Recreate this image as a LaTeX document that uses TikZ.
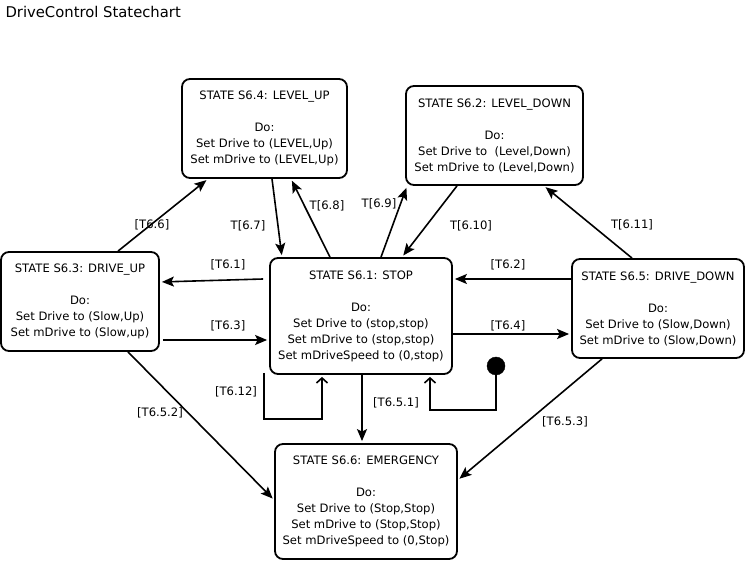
\documentclass[tikz,border=0pt]{standalone}
\usepackage{fontspec}
\setmainfont{DejaVu Sans}
\usetikzlibrary{arrows.meta}

\tikzset{
  statebox/.style={draw=black, line width=1.8pt, rounded corners=8pt, align=center,
    inner sep=0pt, font=\fontsize{11.6}{16}\selectfont},
  trans/.style={draw=black, line width=1.6pt, shorten >=2pt,
    -{Stealth[length=12pt,width=10pt,inset=2.5pt]}},
  looptrans/.style={draw=black, line width=1.6pt, shorten >=2pt,
    -{Straight Barb[length=5pt,width=11pt]}},
  tlabel/.style={font=\fontsize{11.6}{14}\selectfont, inner sep=1pt}
}

\begin{document}
\begin{tikzpicture}[x=1pt, y=-1pt]
        \useasboundingbox (0,0) rectangle (748,561);
        \node[anchor=west, font=\fontsize{14.8}{16}\selectfont] (title) at (2,12) {DriveControl Statechart};

        % states
        \node[statebox, minimum width=165pt, minimum height=99pt] (levelup) at (264.5,128.5)
          {STATE S6.4: LEVEL\_UP\\[\baselineskip] Do:\\ Set Drive to (LEVEL,Up)\\ Set mDrive to (LEVEL,Up)};
        \node[statebox, minimum width=177pt, minimum height=99pt] (leveldown) at (494.5,135.5)
          {STATE S6.2: LEVEL\_DOWN\\[\baselineskip] Do:\\ Set Drive to~ (Level,Down)\\ Set mDrive to (Level,Down)};
        \node[statebox, minimum width=158pt, minimum height=99pt] (driveup) at (80,301.5)
          {STATE S6.3: DRIVE\_UP\\[\baselineskip] Do:\\ Set Drive to (Slow,Up)\\ Set mDrive to (Slow,up)};
        \node[statebox, minimum width=182pt, minimum height=116pt] (stop) at (361,316)
          {STATE S6.1: STOP\\[\baselineskip] Do:\\ Set Drive to (stop,stop)\\ Set mDrive to (stop,stop)\\ Set mDriveSpeed to (0,stop)};
        \node[statebox, minimum width=172pt, minimum height=99pt] (drivedown) at (658,308.5)
          {STATE S6.5: DRIVE\_DOWN\\[\baselineskip] Do:\\ Set Drive to (Slow,Down)\\ Set mDrive to (Slow,Down)};
        \node[statebox, minimum width=182pt, minimum height=115pt] (emergency) at (366,501.5)
          {STATE S6.6: EMERGENCY\\[\baselineskip] Do:\\ Set Drive to (Stop,Stop)\\ Set mDrive to (Stop,Stop)\\ Set mDriveSpeed to (0,Stop)};

        % initial state
        \filldraw[black] (496,366) circle (9pt);
        \coordinate (init) at (496,366);
        \draw[looptrans] (init) -- ++(0,44) -| ([xshift=69pt]stop.south);

        % transitions
        \draw[trans] ([xshift=38pt]driveup.north) -- ([xshift=-56.5pt]levelup.south);
        \draw[trans] ([xshift=7.5pt]levelup.south) -- ([xshift=-79pt]stop.north);
        \draw[trans] ([xshift=-31pt]stop.north) -- ([xshift=26.5pt]levelup.south);
        \draw[trans] ([xshift=20pt]stop.north) -- ([xshift=2pt]leveldown.south west);
        \draw[trans] ([xshift=-37.5pt]leveldown.south) -- ([xshift=41pt]stop.north);
        \draw[trans] ([xshift=-26pt]drivedown.north) -- ([xshift=49.5pt]leveldown.south);
        \draw[trans] ([xshift=-6pt,yshift=37pt]stop.west) -- ([yshift=19.5pt]driveup.east);
        \draw[trans] ([xshift=3pt,yshift=-38.5pt]driveup.east) -- ([yshift=-24pt]stop.west);
        \draw[trans] ([yshift=29.5pt]drivedown.west) -- ([yshift=37pt]stop.east);
        \draw[trans] ([yshift=-18pt]stop.east) -- ([yshift=-25.5pt]drivedown.west);
        \draw[looptrans] ([xshift=-97pt,yshift=2pt]stop.south) -- ++(0,46) -| ([xshift=-39pt]stop.south);
        \draw[trans] ([xshift=1pt]stop.south) -- ([xshift=-4pt]emergency.north);
        \draw[trans] ([xshift=48pt]driveup.south) -- ([yshift=1.5pt]emergency.west);
        \draw[trans] ([xshift=-56pt]drivedown.south) -- ([yshift=21.5pt]emergency.east);

        % labels
        \node[tlabel] (l66) at (152,225) {[T6.6]};
        \node[tlabel] (l67) at (248,226) {T[6.7]};
        \node[tlabel] (l68) at (327,206) {T[6.8]};
        \node[tlabel] (l69) at (379,204) {T[6.9]};
        \node[tlabel] (l610) at (471,226) {T[6.10]};
        \node[tlabel] (l611) at (632,225) {T[6.11]};
        \node[tlabel] (l61) at (228,265) {[T6.1]};
        \node[tlabel] (l63) at (228,326) {[T6.3]};
        \node[tlabel] (l62) at (508,265) {[T6.2]};
        \node[tlabel] (l64) at (508,326) {[T6.4]};
        \node[tlabel] (l612) at (236,392) {[T6.12]};
        \node[tlabel] (l651) at (396,403) {[T6.5.1]};
        \node[tlabel] (l652) at (160,413) {[T6.5.2]};
        \node[tlabel] (l653) at (565,422) {[T6.5.3]};
\end{tikzpicture}
\end{document}
